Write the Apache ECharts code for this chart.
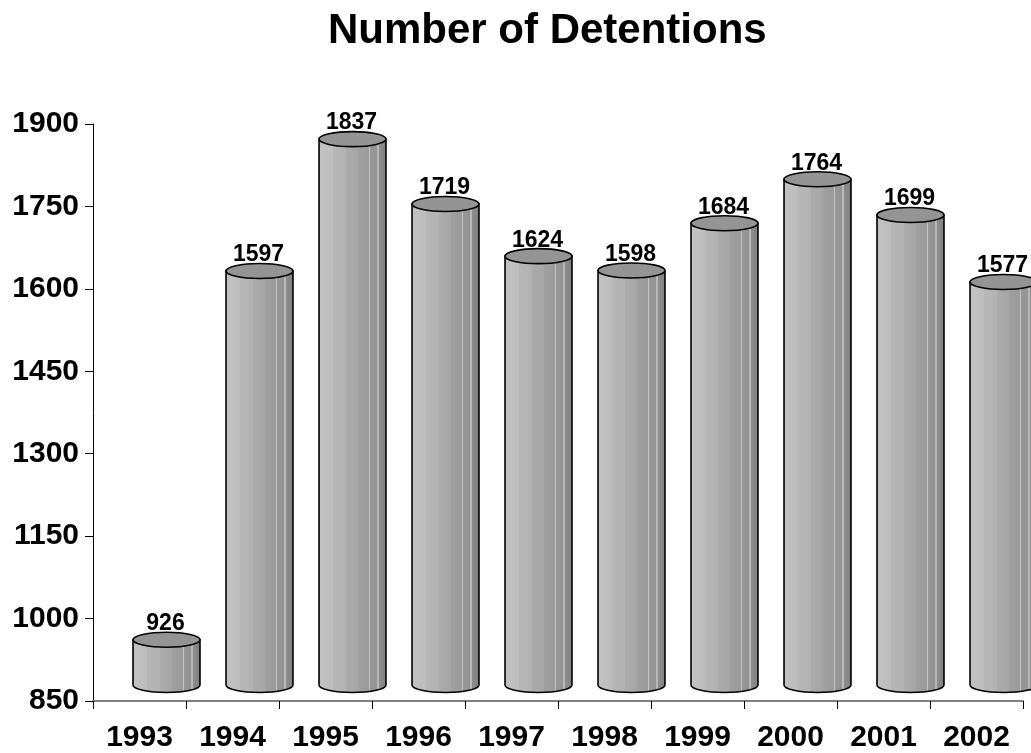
<!DOCTYPE html>
<html>
<head>
<meta charset="utf-8">
<title>Number of Detentions</title>
<script src="https://cdn.jsdelivr.net/npm/echarts@6/dist/echarts.min.js"></script>
<style>
  html, body { margin: 0; padding: 0; background: #fff; }
  #chart { width: 1031px; height: 753px; }
</style>
</head>
<body>
<div id="chart"></div>
<script>
// Yearly detention counts
const years = ['1993', '1994', '1995', '1996', '1997', '1998', '1999', '2000', '2001', '2002'];
const detentions = [926, 1597, 1837, 1719, 1624, 1598, 1684, 1764, 1699, 1577];
const yMin = 850;
const yMax = 1900;
const yStep = 150;

const FONT = '"Liberation Sans", Arial, Helvetica, sans-serif';

// depth shift of the cylinders behind the front axis plane
const DEPTH_X = 27;
const DEPTH_TOP_Y = -19.5;
const DEPTH_BASE_Y = -16;
const K = 0.5523;

function ellipsePath(cx, cy, rx, ry) {
  return 'M' + (cx - rx) + ',' + cy +
    ' C' + (cx - rx) + ',' + (cy - K * ry) + ' ' + (cx - K * rx) + ',' + (cy - ry) + ' ' + cx + ',' + (cy - ry) +
    ' C' + (cx + K * rx) + ',' + (cy - ry) + ' ' + (cx + rx) + ',' + (cy - K * ry) + ' ' + (cx + rx) + ',' + cy +
    ' C' + (cx + rx) + ',' + (cy + K * ry) + ' ' + (cx + K * rx) + ',' + (cy + ry) + ' ' + cx + ',' + (cy + ry) +
    ' C' + (cx - K * rx) + ',' + (cy + ry) + ' ' + (cx - rx) + ',' + (cy + K * ry) + ' ' + (cx - rx) + ',' + cy + ' Z';
}

function bodyPath(cx, topY, baseY, rx, ry) {
  const l = cx - rx, r = cx + rx;
  return 'M' + l + ',' + topY + ' L' + l + ',' + baseY +
    ' C' + l + ',' + (baseY + K * ry) + ' ' + (cx - K * rx) + ',' + (baseY + ry) + ' ' + cx + ',' + (baseY + ry) +
    ' C' + (cx + K * rx) + ',' + (baseY + ry) + ' ' + r + ',' + (baseY + K * ry) + ' ' + r + ',' + baseY +
    ' L' + r + ',' + topY + ' Z';
}

// banded shading across the cylinder face
const bodyFill = new echarts.graphic.LinearGradient(0, 0, 1, 0, [
  { offset: 0.00, color: '#c2c2c2' },
  { offset: 0.22, color: '#bdbdbd' },
  { offset: 0.22, color: '#b7b7b7' },
  { offset: 0.40, color: '#b2b2b2' },
  { offset: 0.40, color: '#ababab' },
  { offset: 0.58, color: '#a6a6a6' },
  { offset: 0.58, color: '#a0a0a0' },
  { offset: 0.74, color: '#9a9a9a' },
  { offset: 0.74, color: '#c4c4c4' },
  { offset: 0.76, color: '#c4c4c4' },
  { offset: 0.76, color: '#979797' },
  { offset: 0.86, color: '#939393' },
  { offset: 0.86, color: '#b8b8b8' },
  { offset: 0.88, color: '#b8b8b8' },
  { offset: 0.88, color: '#8e8e8e' },
  { offset: 1.00, color: '#7f7f7f' }
]);

function renderCylinder(params, api) {
  const idx = api.value(0);
  const val = api.value(1);
  const top = api.coord([idx, val]);
  const base = api.coord([idx, yMin]);
  const band = api.size([1, 0])[0];
  const rx = band * 0.36;
  const ry = 7.5;
  const cx = top[0] + DEPTH_X;
  const topY = top[1] + DEPTH_TOP_Y;
  const baseY = base[1] + DEPTH_BASE_Y;
  return {
    type: 'group',
    children: [
      {
        type: 'path',
        shape: { pathData: bodyPath(cx, topY, baseY, rx, ry) },
        style: { fill: bodyFill, stroke: '#000', lineWidth: 1.6 }
      },
      {
        type: 'path',
        shape: { pathData: ellipsePath(cx, topY, rx, ry) },
        style: { fill: '#949494', stroke: '#000', lineWidth: 1.6 }
      },
      {
        type: 'text',
        x: cx - 1,
        y: topY - ry + 3,
        style: {
          text: String(val),
          align: 'center',
          verticalAlign: 'bottom',
          fontFamily: FONT,
          fontWeight: 'bold',
          fontSize: 23,
          fill: '#000'
        }
      }
    ]
  };
}

const chart = echarts.init(document.getElementById('chart'), null, { renderer: 'canvas' });

chart.setOption({
  backgroundColor: '#ffffff',
  animation: false,
  title: {
    text: 'Number of Detentions',
    left: 323,
    top: 5,
    textStyle: { fontFamily: FONT, fontWeight: 'bold', fontSize: 42, color: '#000' }
  },
  grid: { left: 93, right: 8, top: 124, bottom: 52, containLabel: false },
  xAxis: {
    type: 'category',
    data: years,
    boundaryGap: true,
    axisLine: { show: true, lineStyle: { color: '#808080', width: 2 } },
    axisTick: { show: true, length: 8, inside: false, alignWithLabel: false, lineStyle: { color: '#000', width: 1 } },
    axisLabel: { margin: 22, fontFamily: FONT, fontWeight: 'bold', fontSize: 30, color: '#000' },
    splitLine: { show: false }
  },
  yAxis: {
    type: 'value',
    min: yMin,
    max: yMax,
    interval: yStep,
    axisLine: { show: true, lineStyle: { color: '#000', width: 1 } },
    axisTick: { show: true, length: 8, inside: false, lineStyle: { color: '#000', width: 1 } },
    axisLabel: {
      margin: 14,
      formatter: function (v) { return String(v); },
      fontFamily: FONT,
      fontWeight: 'bold',
      fontSize: 30,
      color: '#000'
    },
    splitLine: { show: false }
  },
  series: [{
    type: 'custom',
    renderItem: renderCylinder,
    clip: false,
    encode: { x: 0, y: 1 },
    data: detentions.map(function (v, i) { return [i, v]; })
  }]
});
</script>
</body>
</html>
